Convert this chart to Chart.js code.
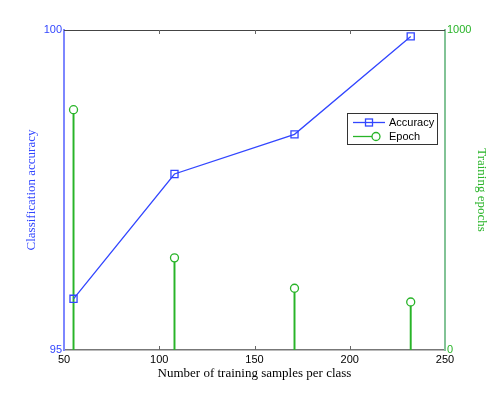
<!DOCTYPE html>
<html>
<head>
<meta charset="utf-8">
<script src="https://cdn.jsdelivr.net/npm/chart.js@4/dist/chart.umd.min.js"></script>
<style>
  html, body { margin: 0; padding: 0; background: #fff; }
  #wrap { width: 491px; height: 394px; }
</style>
</head>
<body>
<div id="wrap"><canvas id="myChart" width="491" height="394"></canvas></div>
<script>
// samples per class
let samples = [55, 108, 171, 232]
// classification accuracy (left axis)
let accuracy = [95.8, 97.75, 98.37, 99.9]
// training epochs (right axis)
let epochs = [751, 288, 193, 150]

let xTicks = [50, 100, 150, 200, 250]
let accTicks = [95, 100]
let epochTicks = [0, 1000]

let blue = "rgb(50, 70, 255)"
let blueAxis = "rgb(125, 135, 255)"
let green = "rgb(40, 180, 40)"
let greenAxis = "rgb(130, 195, 150)"
let sans = "'Liberation Sans', Arial, sans-serif"
let serif = "'Liberation Serif', 'Times New Roman', serif"

let ctx = document.getElementById("myChart").getContext("2d")

// inward ticks, top frame line and legend, MATLAB style
let frame = {
	id: "frame",
	afterDatasetsDraw(chart) {
		let c = chart.ctx
		let a = chart.chartArea
		let x = chart.scales.x
		c.save()
		c.strokeStyle = "#444"
		c.lineWidth = 1
		c.beginPath()
		c.moveTo(a.left, a.top + 0.5)
		c.lineTo(a.right, a.top + 0.5)
		c.stroke()
		c.strokeStyle = "#666"
		xTicks.slice(1, -1).forEach(function (v) {
			let px = Math.round(x.getPixelForValue(v)) + 0.5
			c.beginPath()
			c.moveTo(px, a.bottom)
			c.lineTo(px, a.bottom - 4)
			c.moveTo(px, a.top)
			c.lineTo(px, a.top + 4)
			c.stroke()
		})

		// legend
		let lx = 347, ly = 113, lw = 90, lh = 31
		c.fillStyle = "#fff"
		c.fillRect(lx, ly, lw, lh)
		c.strokeStyle = "#333"
		c.lineWidth = 1
		c.strokeRect(lx + 0.5, ly + 0.5, lw, lh)
		c.lineWidth = 1.3
		c.strokeStyle = blue
		c.beginPath()
		c.moveTo(353, 122.5)
		c.lineTo(385, 122.5)
		c.stroke()
		c.strokeRect(365.5, 119, 7, 7)
		c.strokeStyle = green
		c.beginPath()
		c.moveTo(353, 136.5)
		c.lineTo(372, 136.5)
		c.stroke()
		c.beginPath()
		c.arc(376, 136.5, 4, 0, Math.PI * 2)
		c.stroke()
		c.fillStyle = "#000"
		c.font = "11px " + sans
		c.textBaseline = "middle"
		c.fillText("Accuracy", 389, 122.5)
		c.fillText("Epoch", 389, 137)
		c.restore()
	}
}

let config = {
	data: {
		datasets: [
			{
				type: "line",
				label: "Accuracy",
				data: samples.map((s, i) => ({x: s, y: accuracy[i]})),
				yAxisID: "y",
				borderColor: blue,
				borderWidth: 1.3,
				pointStyle: "rect",
				pointRadius: 5,
				pointBorderColor: blue,
				pointBackgroundColor: "rgba(0,0,0,0)",
				pointBorderWidth: 1.3,
				tension: 0,
				order: 0,
			},
			{
				type: "scatter",
				label: "Epoch",
				data: samples.map((s, i) => ({x: s, y: epochs[i]})),
				yAxisID: "y2",
				pointStyle: "circle",
				pointRadius: 4,
				pointBorderColor: green,
				pointBackgroundColor: "#fff",
				pointBorderWidth: 1.3,
				order: 1,
			},
			{
				type: "bar",
				label: "Epoch stems",
				data: samples.map((s, i) => ({x: s, y: epochs[i]})),
				yAxisID: "y2",
				backgroundColor: green,
				barThickness: 1.3,
				order: 2,
			},
		],
	},
	options: {
		responsive: false,
		animation: false,
		layout: {padding: {top: 30, left: 0, right: 0, bottom: 0}},
		plugins: {
			legend: {display: false},
			tooltip: {enabled: false},
		},
		scales: {
			x: {
				type: "linear",
				min: 50,
				max: 250,
				offset: false,
				afterFit: s => { s.height = 44 },
				afterBuildTicks: s => { s.ticks = xTicks.map(v => ({value: v})) },
				grid: {display: false, drawTicks: false},
				border: {color: "#777", width: 1.5},
				ticks: {
					color: "#000",
					padding: 3,
					callback: v => String(v),
					font: {size: 11, family: sans},
				},
				title: {
					display: true,
					text: "Number of training samples per class",
					color: "#000",
					padding: {top: 0, bottom: 13},
					font: {size: 13, family: serif},
				},
			},
			y: {
				type: "linear",
				position: "left",
				min: 95,
				max: 100,
				afterFit: s => { s.width = 64 },
				afterBuildTicks: s => { s.ticks = accTicks.map(v => ({value: v})) },
				grid: {display: false, drawTicks: false},
				border: {color: blueAxis, width: 2},
				ticks: {
					color: blue,
					padding: 2,
					callback: v => String(v),
					font: {size: 11, family: sans},
				},
				title: {
					display: true,
					text: "Classification accuracy",
					color: blue,
					padding: {top: 24, bottom: 0},
					font: {size: 13, family: serif},
				},
			},
			y2: {
				type: "linear",
				position: "right",
				min: 0,
				max: 1000,
				afterFit: s => { s.width = 46 },
				afterBuildTicks: s => { s.ticks = epochTicks.map(v => ({value: v})) },
				grid: {display: false, drawTicks: false},
				border: {color: greenAxis, width: 2},
				ticks: {
					color: green,
					padding: 2,
					callback: v => String(v),
					font: {size: 11, family: sans},
				},
				title: {
					display: true,
					text: "Training epochs",
					color: green,
					padding: {top: 2, bottom: 0},
					font: {size: 13, family: serif},
				},
			},
		},
	},
	plugins: [frame],
}

new Chart(ctx, config)
</script>
</body>
</html>
